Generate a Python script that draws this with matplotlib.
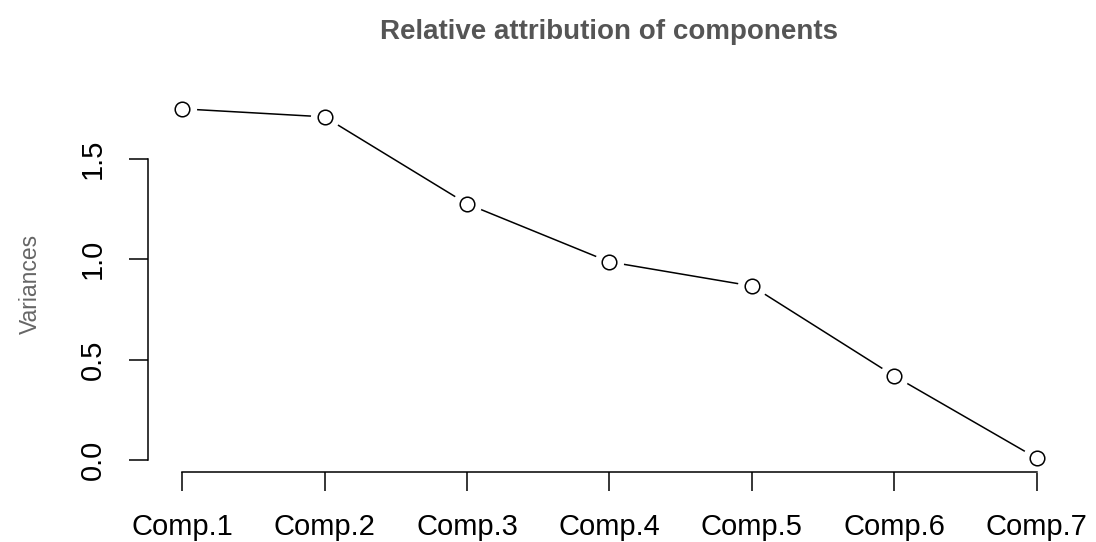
import numpy as np
import matplotlib.pyplot as plt

plt.rcParams['font.family'] = ['Liberation Sans', 'DejaVu Sans']

components = ['Comp.1', 'Comp.2', 'Comp.3', 'Comp.4', 'Comp.5', 'Comp.6', 'Comp.7']
variances = [1.749, 1.709, 1.276, 0.987, 0.867, 0.419, 0.010]
y_ticks = [0.0, 0.5, 1.0, 1.5]

x = np.arange(1, len(components) + 1)

fig = plt.figure(figsize=(10.96, 5.42), dpi=100)
ax = fig.add_axes([0.135, 0.129, 0.842, 0.696])

# line with gaps around the points, like R's type="b"
ax.plot(x, variances, color='black', lw=1.1, zorder=1)
ax.plot(x, variances, 'o', ms=20, mfc='white', mec='white', zorder=2)
ax.plot(x, variances, 'o', ms=10.5, mfc='white', mec='black', mew=1.1, zorder=3)

pad_x = 0.04 * (x[-1] - x[0])
pad_y = 0.04 * (max(variances) - min(variances))
ax.set_xlim(x[0] - pad_x, x[-1] + pad_x)
ax.set_ylim(min(variances) - pad_y, max(variances) + pad_y)

ax.set_xticks(x)
ax.set_xticklabels(components)
ax.set_yticks(y_ticks)
ax.set_yticklabels([f'{v:.1f}' for v in y_ticks], rotation=90, va='center')

for side in ['top', 'right']:
    ax.spines[side].set_visible(False)
ax.spines['left'].set_bounds(y_ticks[0], y_ticks[-1])
ax.spines['bottom'].set_bounds(x[0], x[-1])
for side in ['left', 'bottom']:
    ax.spines[side].set_linewidth(1.1)

ax.tick_params(axis='both', length=13.5, width=1.1, labelsize=21)
ax.tick_params(axis='x', pad=16)
ax.tick_params(axis='y', pad=16)

ax.set_ylabel('Variances', color='#666666', fontsize=16.5, labelpad=27)
ax.set_title('Relative attribution of components', color='#555555',
             fontsize=20, fontweight='bold', pad=40)

fig.savefig('out.png', dpi=100)
